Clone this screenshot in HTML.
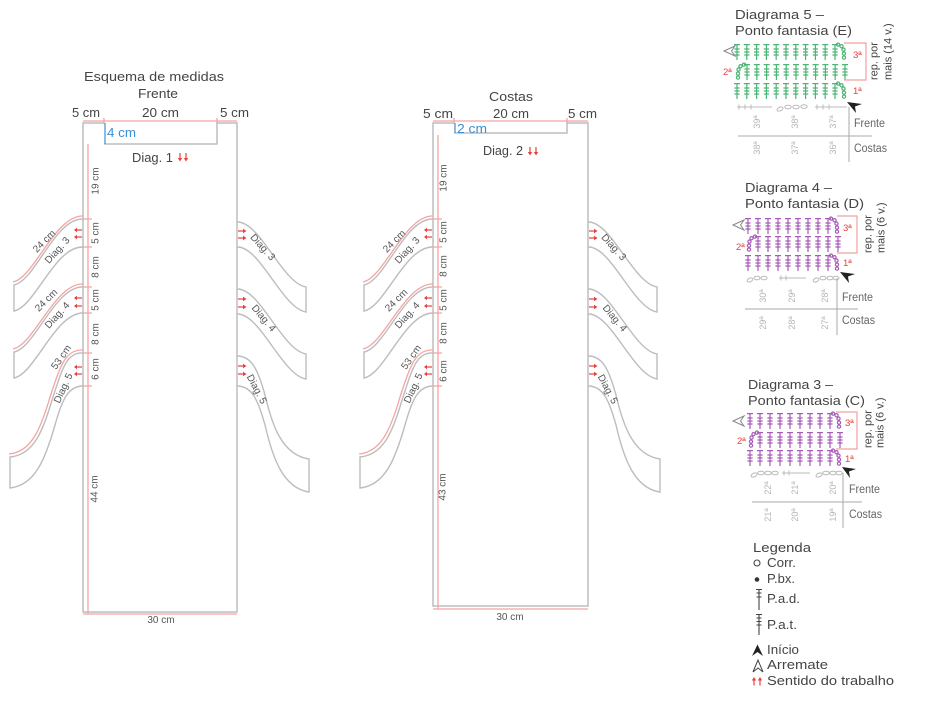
<!DOCTYPE html>
<html><head><meta charset="utf-8">
<style>
html,body{margin:0;padding:0;background:#fff;}
svg{display:block;}
text{font-family:"Liberation Sans",sans-serif;}
</style></head><body>
<svg width="938" height="703" viewBox="0 0 938 703" xmlns="http://www.w3.org/2000/svg">
<defs>
 <path id="st" d="M0,0v16M-3,0.6h6M-2.6,5h5.2M-2.6,8h5.2M-2.6,11h5.2"/>
 <g id="chR"><circle cx="3" cy="0.6" r="1.6"/><circle cx="6.5" cy="2.2" r="1.6"/><circle cx="8.5" cy="5.6" r="1.6"/><circle cx="9" cy="9.6" r="1.6"/><circle cx="9" cy="13.6" r="1.6"/></g>
 <g id="chL"><circle cx="-3" cy="0.6" r="1.6"/><circle cx="-6.5" cy="2.2" r="1.6"/><circle cx="-8.5" cy="5.6" r="1.6"/><circle cx="-9" cy="9.6" r="1.6"/><circle cx="-9" cy="13.6" r="1.6"/></g>
 <g id="aD"><path d="M0,0V6" stroke="#e8403c" stroke-width="1.2"/><path d="M-2.2,5L0,8.5L2.2,5Z" fill="#e8403c"/></g>
 <g id="aU"><path d="M0,8.5V2.5" stroke="#e8403c" stroke-width="1.2"/><path d="M-2.2,3.5L0,0L2.2,3.5Z" fill="#e8403c"/></g>
 <g id="aL"><path d="M8,0H2" stroke="#e8403c" stroke-width="1.2"/><path d="M3,-2.2L0,0L3,2.2Z" fill="#e8403c"/></g>
 <g id="aR"><path d="M0,0H6" stroke="#e8403c" stroke-width="1.2"/><path d="M5,-2.2L8.5,0L5,2.2Z" fill="#e8403c"/></g>
 <g id="lf" fill="none">
  <g stroke="#bdbdbd" stroke-width="1.4">
   <path d="M83,219 C55,218 35,281 14,285 V311 C35,307 55,246 83,247"/>
   <path d="M83,287 C55,286 35,348 14,352 V378 C35,374 55,313 83,313"/>
   <path d="M83,353 C66,352 62,370 52,400 C42,435 32,455 10,457 V488 C35,485 45,460 55,425 C62,400 68,386 83,386"/>
  </g>
  <g stroke="#f5a3a3" stroke-width="1.3">
   <path d="M83,216 C55,215 34,278 13,282"/>
   <path d="M83,284 C55,283 34,345 13,349"/>
   <path d="M83,350 C65,349 60,367 50,397 C40,432 30,452 9,454"/>
   <path d="M83,219H92M83,247H92M83,287H92M83,313H92M83,353H92M83,386H92"/>
  </g>
 </g>
 <g id="rf" fill="none" stroke="#bdbdbd" stroke-width="1.4">
  <path d="M237,222 C260,221 282,283 306,287 V312 C282,308 260,246 237,247"/>
  <path d="M237,289 C260,288 282,350 306,354 V379 C282,375 260,313 237,314"/>
  <path d="M237,356 C252,356 258,370 265,395 C272,425 282,455 309,459 V492 C282,488 272,455 265,425 C258,400 252,386 237,386"/>
 </g>
</defs>

<!-- ================= FRENTE ================= -->
<text x="84" y="81" font-size="13" fill="#444" textLength="140" lengthAdjust="spacingAndGlyphs">Esquema de medidas</text>
<text x="138" y="98" font-size="13" fill="#444" textLength="40" lengthAdjust="spacingAndGlyphs">Frente</text>
<text x="72" y="117" font-size="13" fill="#444" textLength="28" lengthAdjust="spacingAndGlyphs">5 cm</text>
<text x="142" y="117" font-size="13" fill="#444" textLength="37" lengthAdjust="spacingAndGlyphs">20 cm</text>
<text x="220" y="117" font-size="13" fill="#444" textLength="29" lengthAdjust="spacingAndGlyphs">5 cm</text>

<path d="M83,121H237M104,118V124M217,118V124" stroke="#f5a3a3" stroke-width="1.3" fill="none"/>
<path d="M88,144V614M83,614H237" stroke="#f5a3a3" stroke-width="1.3" fill="none"/>
<path d="M104,123H83V612H237V123H217V144H104" stroke="#bdbdbd" stroke-width="1.5" fill="none"/>
<path d="M105,123V144" stroke="#3b8ed4" stroke-width="1.2"/>
<text x="107" y="137" font-size="13" fill="#3b8ed4" textLength="29" lengthAdjust="spacingAndGlyphs">4 cm</text>
<text x="132" y="162" font-size="13" fill="#444" textLength="41" lengthAdjust="spacingAndGlyphs">Diag. 1</text>
<use href="#aD" x="180" y="153"/><use href="#aD" x="186" y="153"/>

<use href="#lf"/>
<use href="#rf"/>

<g font-size="10" fill="#555" text-anchor="middle">
 <text transform="translate(95,181) rotate(-90)" dy="3.5">19 cm</text>
 <text transform="translate(95,233) rotate(-90)" dy="3.5">5 cm</text>
 <text transform="translate(95,267) rotate(-90)" dy="3.5">8 cm</text>
 <text transform="translate(95,300) rotate(-90)" dy="3.5">5 cm</text>
 <text transform="translate(95,334) rotate(-90)" dy="3.5">8 cm</text>
 <text transform="translate(95,369) rotate(-90)" dy="3.5">6 cm</text>
 <text transform="translate(94,489) rotate(-90)" dy="3.5">44 cm</text>
 <text x="161" y="623">30 cm</text>
 <text transform="translate(44,241) rotate(-45)" dy="3.5">24 cm</text>
 <text transform="translate(57,250) rotate(-48)" dy="3.5">Diag. 3</text>
 <text transform="translate(46,300) rotate(-45)" dy="3.5">24 cm</text>
 <text transform="translate(57,315) rotate(-48)" dy="3.5">Diag. 4</text>
 <text transform="translate(61,357) rotate(-55)" dy="3.5">53 cm</text>
 <text transform="translate(63,388) rotate(-65)" dy="3.5">Diag. 5</text>
 <text transform="translate(263,247) rotate(48)" dy="3.5">Diag. 3</text>
 <text transform="translate(264,318) rotate(50)" dy="3.5">Diag. 4</text>
 <text transform="translate(257,389) rotate(62)" dy="3.5">Diag. 5</text>
</g>
<use href="#aL" x="74" y="230"/><use href="#aL" x="74" y="237"/>
<use href="#aL" x="74" y="298"/><use href="#aL" x="74" y="306"/>
<use href="#aL" x="74" y="367"/><use href="#aL" x="74" y="374"/>
<use href="#aR" x="238" y="231"/><use href="#aR" x="238" y="238"/>
<use href="#aR" x="238" y="299"/><use href="#aR" x="238" y="307"/>
<use href="#aR" x="238" y="366"/><use href="#aR" x="238" y="374"/>

<!-- ================= COSTAS ================= -->
<text x="489" y="101" font-size="13" fill="#444" textLength="44" lengthAdjust="spacingAndGlyphs">Costas</text>
<text x="423" y="118" font-size="13" fill="#444" textLength="30" lengthAdjust="spacingAndGlyphs">5 cm</text>
<text x="493" y="118" font-size="13" fill="#444" textLength="36" lengthAdjust="spacingAndGlyphs">20 cm</text>
<text x="568" y="118" font-size="13" fill="#444" textLength="29" lengthAdjust="spacingAndGlyphs">5 cm</text>

<path d="M433,121H588M454,118V124M567,118V124" stroke="#f5a3a3" stroke-width="1.3" fill="none"/>
<path d="M438,135V609M433,609H588" stroke="#f5a3a3" stroke-width="1.3" fill="none"/>
<path d="M454,123H433V606H588V123H567V133H454" stroke="#bdbdbd" stroke-width="1.5" fill="none"/>
<path d="M455,123V133" stroke="#3b8ed4" stroke-width="1.2"/>
<text x="457" y="133" font-size="13" fill="#3b8ed4" textLength="30" lengthAdjust="spacingAndGlyphs">2 cm</text>
<text x="483" y="155" font-size="13" fill="#444" textLength="40" lengthAdjust="spacingAndGlyphs">Diag. 2</text>
<use href="#aD" x="530" y="147"/><use href="#aD" x="536" y="147"/>

<use href="#lf" transform="translate(350,0)"/>
<use href="#rf" transform="translate(351,0)"/>

<g font-size="10" fill="#555" text-anchor="middle">
 <text transform="translate(443,178) rotate(-90)" dy="3.5">19 cm</text>
 <text transform="translate(443,232) rotate(-90)" dy="3.5">5 cm</text>
 <text transform="translate(443,266) rotate(-90)" dy="3.5">8 cm</text>
 <text transform="translate(443,300) rotate(-90)" dy="3.5">5 cm</text>
 <text transform="translate(443,333) rotate(-90)" dy="3.5">8 cm</text>
 <text transform="translate(443,371) rotate(-90)" dy="3.5">6 cm</text>
 <text transform="translate(442,487) rotate(-90)" dy="3.5">43 cm</text>
 <text x="510" y="620">30 cm</text>
 <text transform="translate(394,241) rotate(-45)" dy="3.5">24 cm</text>
 <text transform="translate(407,250) rotate(-48)" dy="3.5">Diag. 3</text>
 <text transform="translate(396,300) rotate(-45)" dy="3.5">24 cm</text>
 <text transform="translate(407,315) rotate(-48)" dy="3.5">Diag. 4</text>
 <text transform="translate(411,357) rotate(-55)" dy="3.5">53 cm</text>
 <text transform="translate(413,388) rotate(-65)" dy="3.5">Diag. 5</text>
 <text transform="translate(614,247) rotate(48)" dy="3.5">Diag. 3</text>
 <text transform="translate(615,318) rotate(50)" dy="3.5">Diag. 4</text>
 <text transform="translate(608,389) rotate(62)" dy="3.5">Diag. 5</text>
</g>
<use href="#aL" x="424" y="230"/><use href="#aL" x="424" y="237"/>
<use href="#aL" x="424" y="298"/><use href="#aL" x="424" y="306"/>
<use href="#aL" x="424" y="367"/><use href="#aL" x="424" y="374"/>
<use href="#aR" x="589" y="231"/><use href="#aR" x="589" y="238"/>
<use href="#aR" x="589" y="299"/><use href="#aR" x="589" y="307"/>
<use href="#aR" x="589" y="366"/><use href="#aR" x="589" y="374"/>

<!-- ================= DIAGRAMA 5 ================= -->
<text x="735" y="19" font-size="13" fill="#444" textLength="89" lengthAdjust="spacingAndGlyphs">Diagrama 5 –</text>
<text x="735" y="35" font-size="13" fill="#444" textLength="117" lengthAdjust="spacingAndGlyphs">Ponto fantasia (E)</text>
<g stroke="#4bb573" stroke-width="1.2" fill="none">
 <use href="#st" x="737" y="44"/><use href="#st" x="746.8" y="44"/><use href="#st" x="756.6" y="44"/><use href="#st" x="766.4" y="44"/><use href="#st" x="776.2" y="44"/><use href="#st" x="786" y="44"/><use href="#st" x="795.8" y="44"/><use href="#st" x="805.6" y="44"/><use href="#st" x="815.4" y="44"/><use href="#st" x="825.2" y="44"/><use href="#st" x="835" y="44"/>
 <use href="#chR" x="835" y="44"/>
 <use href="#st" x="747" y="64"/><use href="#st" x="756.8" y="64"/><use href="#st" x="766.6" y="64"/><use href="#st" x="776.4" y="64"/><use href="#st" x="786.2" y="64"/><use href="#st" x="796" y="64"/><use href="#st" x="805.8" y="64"/><use href="#st" x="815.6" y="64"/><use href="#st" x="825.4" y="64"/><use href="#st" x="835.2" y="64"/><use href="#st" x="845" y="64"/>
 <use href="#chL" x="747" y="64"/>
 <use href="#st" x="737" y="83"/><use href="#st" x="746.8" y="83"/><use href="#st" x="756.6" y="83"/><use href="#st" x="766.4" y="83"/><use href="#st" x="776.2" y="83"/><use href="#st" x="786" y="83"/><use href="#st" x="795.8" y="83"/><use href="#st" x="805.6" y="83"/><use href="#st" x="815.4" y="83"/><use href="#st" x="825.2" y="83"/><use href="#st" x="835" y="83"/>
 <use href="#chR" x="835" y="83"/>
</g>
<path d="M844,43H866V80H844" stroke="#f2a0a0" stroke-width="1.2" fill="none"/>
<g font-size="9.5" fill="#e8403c">
 <text x="853" y="58">3ª</text><text x="723" y="75">2ª</text><text x="853" y="94">1ª</text>
</g>
<g font-size="11" fill="#444">
 <text transform="translate(874,80) rotate(-90)" dy="3.5">rep. por</text>
 <text transform="translate(888,80) rotate(-90)" dy="3.5">mais (14 v.)</text>
</g>
<polygon points="724,51 735,46 731.5,51 735,56" fill="none" stroke="#888" stroke-width="1"/>
<polygon points="847,102 862,104 855,106.5 856,113" fill="#222"/>
<g stroke="#bbb" stroke-width="1" fill="none">
 <path d="M737,107H772M739,104.5v5M745,104.5v5M751,104.5v5"/>
 <ellipse cx="780" cy="109" rx="3.2" ry="1.8" transform="rotate(-25 780 109)"/>
 <ellipse cx="788" cy="107" rx="3.2" ry="1.8"/><ellipse cx="796" cy="107" rx="3.2" ry="1.8"/><ellipse cx="804" cy="106.5" rx="3.2" ry="1.8"/>
 <path d="M815,107H847M817,104.5v5M823,104.5v5M829,104.5v5"/>
</g>
<path d="M849,107V162M738,136H872" stroke="#aaa" stroke-width="1"/>
<g font-size="9" fill="#b5b5b5" text-anchor="middle">
 <text transform="translate(757,122) rotate(-90)" dy="3">39ª</text>
 <text transform="translate(795,122) rotate(-90)" dy="3">38ª</text>
 <text transform="translate(833,122) rotate(-90)" dy="3">37ª</text>
 <text transform="translate(757,148) rotate(-90)" dy="3">38ª</text>
 <text transform="translate(795,148) rotate(-90)" dy="3">37ª</text>
 <text transform="translate(833,148) rotate(-90)" dy="3">36ª</text>
</g>
<text x="854" y="127" font-size="11.5" fill="#666" textLength="31" lengthAdjust="spacingAndGlyphs">Frente</text>
<text x="854" y="152" font-size="11.5" fill="#666" textLength="33" lengthAdjust="spacingAndGlyphs">Costas</text>

<!-- ================= DIAGRAMA 4 ================= -->
<text x="745" y="192" font-size="13" fill="#444" textLength="87" lengthAdjust="spacingAndGlyphs">Diagrama 4 –</text>
<text x="745" y="208" font-size="13" fill="#444" textLength="119" lengthAdjust="spacingAndGlyphs">Ponto fantasia (D)</text>
<g stroke="#a75cb8" stroke-width="1.2" fill="none">
 <use href="#st" x="748" y="218"/><use href="#st" x="758" y="218"/><use href="#st" x="768" y="218"/><use href="#st" x="778" y="218"/><use href="#st" x="788" y="218"/><use href="#st" x="798" y="218"/><use href="#st" x="808" y="218"/><use href="#st" x="818" y="218"/><use href="#st" x="828" y="218"/>
 <use href="#chR" x="828" y="218"/>
 <use href="#st" x="758" y="236"/><use href="#st" x="768" y="236"/><use href="#st" x="778" y="236"/><use href="#st" x="788" y="236"/><use href="#st" x="798" y="236"/><use href="#st" x="808" y="236"/><use href="#st" x="818" y="236"/><use href="#st" x="828" y="236"/><use href="#st" x="838" y="236"/>
 <use href="#chL" x="758" y="236"/>
 <use href="#st" x="748" y="255"/><use href="#st" x="758" y="255"/><use href="#st" x="768" y="255"/><use href="#st" x="778" y="255"/><use href="#st" x="788" y="255"/><use href="#st" x="798" y="255"/><use href="#st" x="808" y="255"/><use href="#st" x="818" y="255"/><use href="#st" x="828" y="255"/>
 <use href="#chR" x="828" y="255"/>
</g>
<path d="M837,216H857V253H837" stroke="#f2a0a0" stroke-width="1.2" fill="none"/>
<g font-size="9.5" fill="#e8403c">
 <text x="843" y="231">3ª</text><text x="736" y="250">2ª</text><text x="843" y="266">1ª</text>
</g>
<g font-size="11" fill="#444">
 <text transform="translate(868,253) rotate(-90)" dy="3.5">rep. por</text>
 <text transform="translate(881,253) rotate(-90)" dy="3.5">mais (6 v.)</text>
</g>
<polygon points="733,225 744,220 740.5,225 744,230" fill="none" stroke="#888" stroke-width="1"/>
<polygon points="840,272 855,274 848,276.5 849,283" fill="#222"/>
<g stroke="#bbb" stroke-width="1" fill="none">
 <ellipse cx="750" cy="280" rx="3" ry="1.8" transform="rotate(-25 750 280)"/>
 <ellipse cx="757" cy="278" rx="3" ry="1.8"/><ellipse cx="764" cy="278" rx="3" ry="1.8"/>
 <path d="M779,278H806M781,275.5v5M786,275.5v5"/>
 <ellipse cx="816" cy="280" rx="3" ry="1.8" transform="rotate(-25 816 280)"/>
 <ellipse cx="823" cy="278" rx="3" ry="1.8"/><ellipse cx="830" cy="278" rx="3" ry="1.8"/><ellipse cx="836" cy="278" rx="3" ry="1.8"/>
</g>
<path d="M837,278V335M745,309H858" stroke="#aaa" stroke-width="1"/>
<g font-size="9" fill="#b5b5b5" text-anchor="middle">
 <text transform="translate(763,296) rotate(-90)" dy="3">30ª</text>
 <text transform="translate(792,296) rotate(-90)" dy="3">29ª</text>
 <text transform="translate(825,296) rotate(-90)" dy="3">28ª</text>
 <text transform="translate(763,323) rotate(-90)" dy="3">29ª</text>
 <text transform="translate(792,323) rotate(-90)" dy="3">28ª</text>
 <text transform="translate(825,323) rotate(-90)" dy="3">27ª</text>
</g>
<text x="842" y="301" font-size="11.5" fill="#666" textLength="31" lengthAdjust="spacingAndGlyphs">Frente</text>
<text x="842" y="324" font-size="11.5" fill="#666" textLength="33" lengthAdjust="spacingAndGlyphs">Costas</text>

<!-- ================= DIAGRAMA 3 ================= -->
<text x="748" y="389" font-size="13" fill="#444" textLength="85" lengthAdjust="spacingAndGlyphs">Diagrama 3 –</text>
<text x="748" y="405" font-size="13" fill="#444" textLength="117" lengthAdjust="spacingAndGlyphs">Ponto fantasia (C)</text>
<g stroke="#a75cb8" stroke-width="1.2" fill="none">
 <use href="#st" x="750" y="413"/><use href="#st" x="760" y="413"/><use href="#st" x="770" y="413"/><use href="#st" x="780" y="413"/><use href="#st" x="790" y="413"/><use href="#st" x="800" y="413"/><use href="#st" x="810" y="413"/><use href="#st" x="820" y="413"/><use href="#st" x="830" y="413"/>
 <use href="#chR" x="830" y="413"/>
 <use href="#st" x="760" y="432"/><use href="#st" x="770" y="432"/><use href="#st" x="780" y="432"/><use href="#st" x="790" y="432"/><use href="#st" x="800" y="432"/><use href="#st" x="810" y="432"/><use href="#st" x="820" y="432"/><use href="#st" x="830" y="432"/><use href="#st" x="840" y="432"/>
 <use href="#chL" x="760" y="432"/>
 <use href="#st" x="750" y="450"/><use href="#st" x="760" y="450"/><use href="#st" x="770" y="450"/><use href="#st" x="780" y="450"/><use href="#st" x="790" y="450"/><use href="#st" x="800" y="450"/><use href="#st" x="810" y="450"/><use href="#st" x="820" y="450"/><use href="#st" x="830" y="450"/>
 <use href="#chR" x="830" y="450"/>
</g>
<path d="M836,412H857V449H836" stroke="#f2a0a0" stroke-width="1.2" fill="none"/>
<g font-size="9.5" fill="#e8403c">
 <text x="845" y="426">3ª</text><text x="737" y="444">2ª</text><text x="845" y="462">1ª</text>
</g>
<g font-size="11" fill="#444">
 <text transform="translate(868,448) rotate(-90)" dy="3.5">rep. por</text>
 <text transform="translate(880,448) rotate(-90)" dy="3.5">mais (6 v.)</text>
</g>
<polygon points="733,421 744,416 740.5,421 744,426" fill="none" stroke="#888" stroke-width="1"/>
<polygon points="842,467 856,469 849,471.5 850,478" fill="#222"/>
<g stroke="#bbb" stroke-width="1" fill="none">
 <ellipse cx="754" cy="475" rx="3.2" ry="1.8" transform="rotate(-25 754 475)"/>
 <ellipse cx="761" cy="473" rx="3.2" ry="1.8"/><ellipse cx="768" cy="473" rx="3.2" ry="1.8"/><ellipse cx="775" cy="473" rx="3.2" ry="1.8"/>
 <path d="M782,473H810M784,470.5v5M789,470.5v5"/>
 <ellipse cx="819" cy="475" rx="3.2" ry="1.8" transform="rotate(-25 819 475)"/>
 <ellipse cx="826" cy="473" rx="3.2" ry="1.8"/><ellipse cx="833" cy="473" rx="3.2" ry="1.8"/><ellipse cx="839" cy="473" rx="3.2" ry="1.8"/>
</g>
<path d="M843,473V528M752,502H862" stroke="#aaa" stroke-width="1"/>
<g font-size="9" fill="#b5b5b5" text-anchor="middle">
 <text transform="translate(768,488) rotate(-90)" dy="3">22ª</text>
 <text transform="translate(795,488) rotate(-90)" dy="3">21ª</text>
 <text transform="translate(833,488) rotate(-90)" dy="3">20ª</text>
 <text transform="translate(768,515) rotate(-90)" dy="3">21ª</text>
 <text transform="translate(795,515) rotate(-90)" dy="3">20ª</text>
 <text transform="translate(833,515) rotate(-90)" dy="3">19ª</text>
</g>
<text x="849" y="493" font-size="11.5" fill="#666" textLength="31" lengthAdjust="spacingAndGlyphs">Frente</text>
<text x="849" y="518" font-size="11.5" fill="#666" textLength="33" lengthAdjust="spacingAndGlyphs">Costas</text>

<!-- ================= LEGENDA ================= -->
<text x="753" y="552" font-size="13" fill="#444" textLength="58" lengthAdjust="spacingAndGlyphs">Legenda</text>
<circle cx="757" cy="563" r="3" fill="none" stroke="#444" stroke-width="1.1"/>
<text x="767" y="567" font-size="12.5" fill="#444" textLength="29" lengthAdjust="spacingAndGlyphs">Corr.</text>
<circle cx="757" cy="579.5" r="2.3" fill="#333"/>
<text x="767" y="583" font-size="12.5" fill="#444" textLength="28" lengthAdjust="spacingAndGlyphs">P.bx.</text>
<path d="M759,589V610M756,589.5h6M756.5,593h5M756.5,597h5" stroke="#444" stroke-width="1.1" fill="none"/>
<text x="767" y="603" font-size="12.5" fill="#444" textLength="33" lengthAdjust="spacingAndGlyphs">P.a.d.</text>
<path d="M759,614V635M756,614.5h6M756.5,618h5M756.5,621.5h5M756.5,625h5" stroke="#444" stroke-width="1.1" fill="none"/>
<text x="767" y="629" font-size="12.5" fill="#444" textLength="30" lengthAdjust="spacingAndGlyphs">P.a.t.</text>
<polygon points="752,656 757.5,644.5 763,656 757.5,652" fill="#222"/>
<text x="767" y="654" font-size="12.5" fill="#444" textLength="32" lengthAdjust="spacingAndGlyphs">Início</text>
<polygon points="753,672 758,660 763,672 758,668" fill="none" stroke="#444" stroke-width="1"/>
<text x="767" y="669" font-size="12.5" fill="#444" textLength="61" lengthAdjust="spacingAndGlyphs">Arremate</text>
<use href="#aU" x="754" y="677"/><use href="#aU" x="760" y="677"/>
<text x="767" y="685" font-size="12.5" fill="#444" textLength="127" lengthAdjust="spacingAndGlyphs">Sentido do trabalho</text>
</svg>
</body></html>
